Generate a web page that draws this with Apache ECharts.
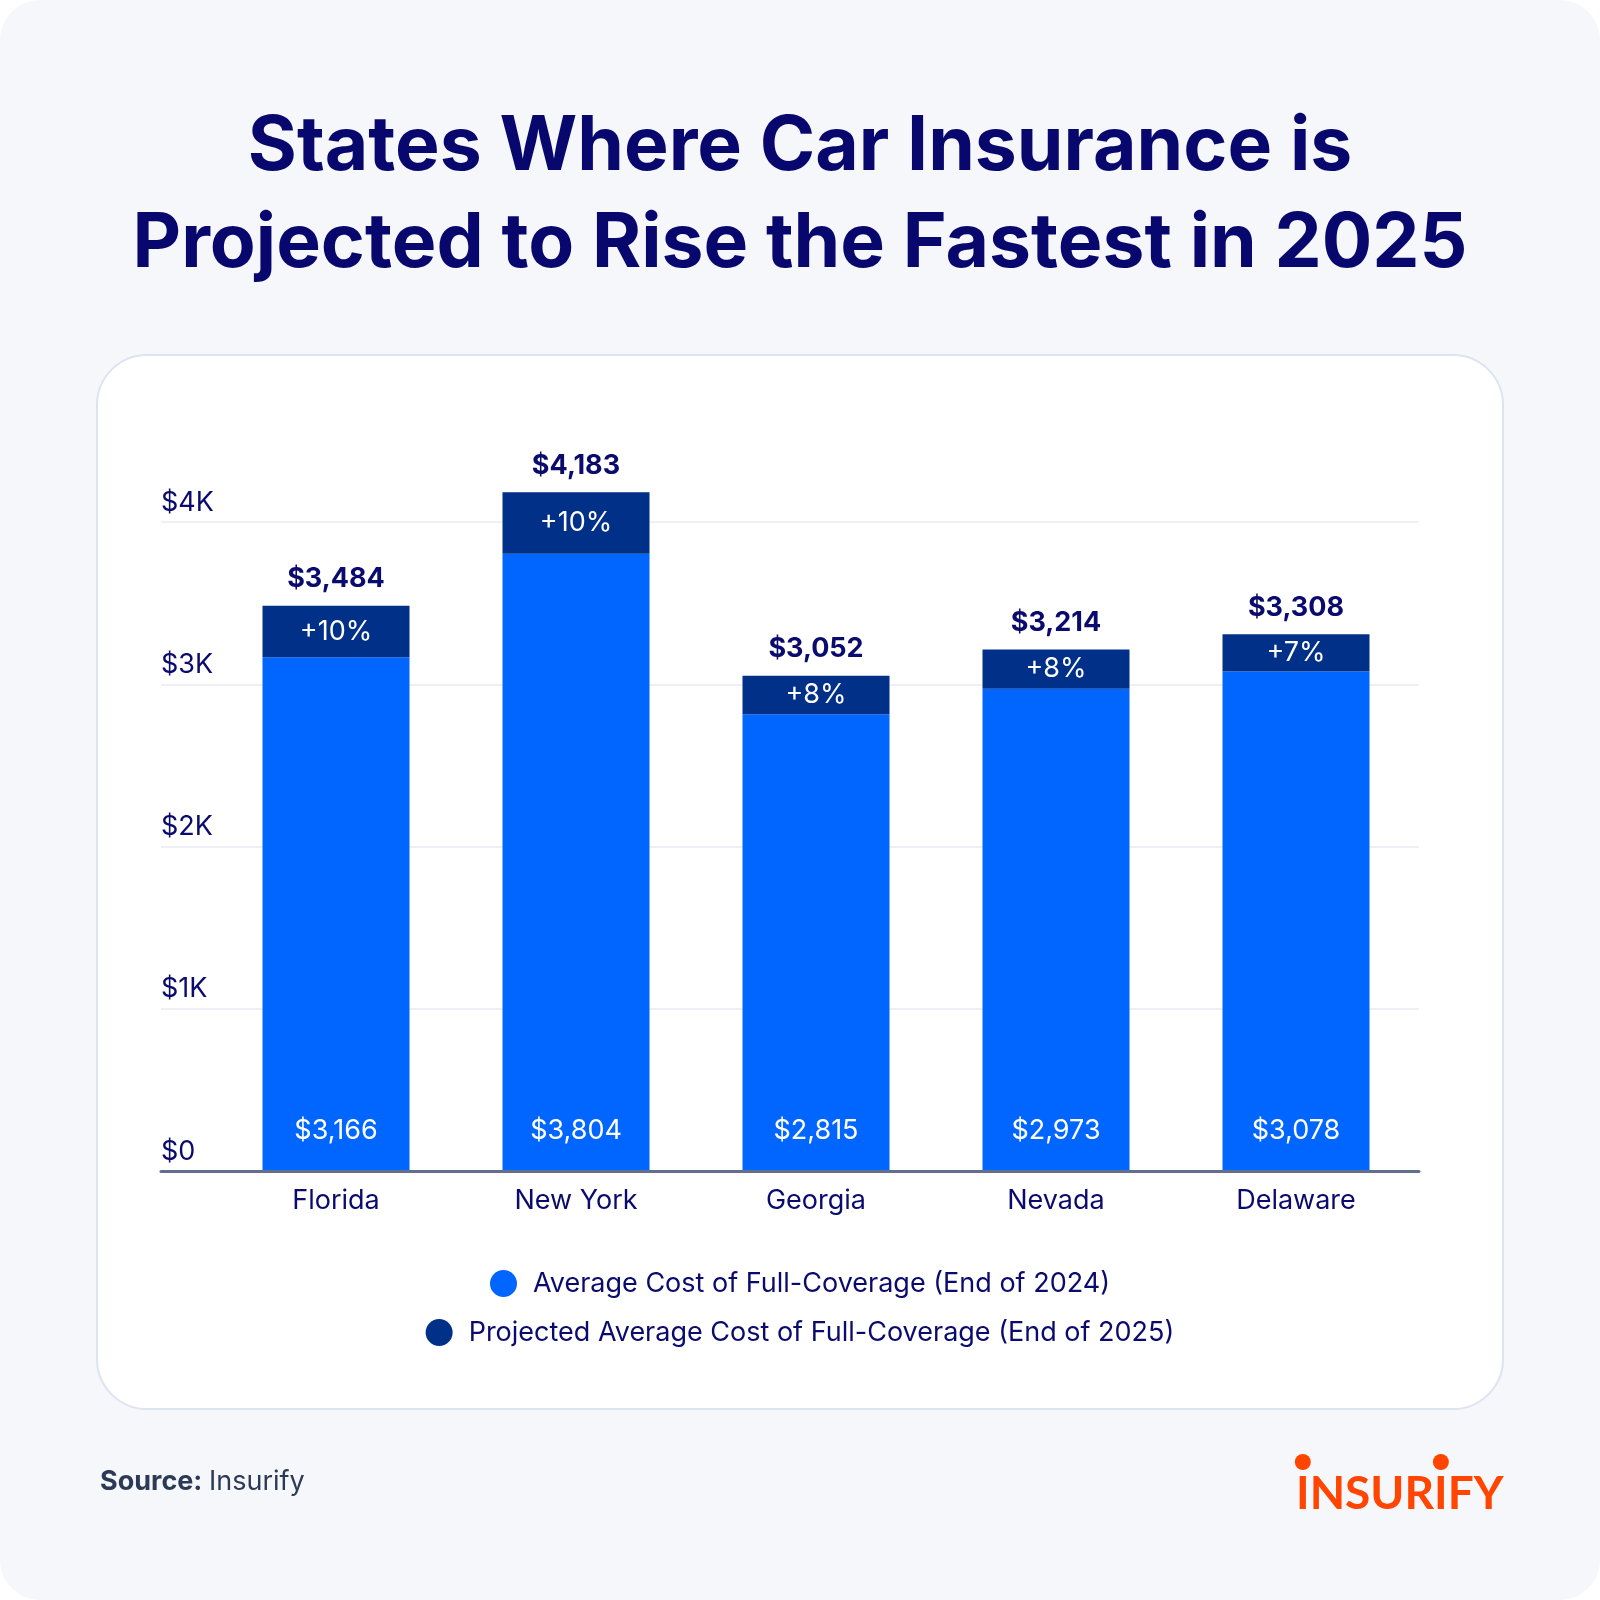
<!DOCTYPE html>
<html>
<head>
<meta charset="utf-8">
<title>Car insurance projections</title>
<script src="https://cdn.jsdelivr.net/npm/echarts@6/dist/echarts.min.js"></script>
<style>
  html, body { margin: 0; padding: 0; background: #ffffff; }
  #chart { width: 1600px; height: 1600px; border-radius: 40px; overflow: hidden; background: #f6f7fb; }
</style>
</head>
<body>
<div id="chart"></div>
<script>
const states = ['Florida', 'New York', 'Georgia', 'Nevada', 'Delaware'];
const cost2024 = [3166, 3804, 2815, 2973, 3078];
const cost2025 = [3484, 4183, 3052, 3214, 3308];
const growth = ['+10%', '+10%', '+8%', '+8%', '+7%'];
const yLabels = ['$0', '$1K', '$2K', '$3K', '$4K'];

const NAME_2024 = 'Average Cost of Full-Coverage (End of 2024)';
const NAME_2025 = 'Projected Average Cost of Full-Coverage (End of 2025)';

const NAVY = '#0b0b6e';
const BLUE = '#0066ff';
const DARK = '#003087';
const ORANGE = '#ff4500';
const FONT = 'Inter';

const increase = cost2025.map((v, i) => v - cost2024[i]);
const money = v => '$' + v.toLocaleString('en-US');

// logo: place the two dots over the I's using real text widths
const LOGO_FONT = '700 46px Lato';
const logoX = 1296;
const ctx = document.createElement('canvas').getContext('2d');
ctx.font = LOGO_FONT;
const iW = ctx.measureText('I').width;
const dot1 = logoX + iW / 2;
const dot2 = logoX + ctx.measureText('INSUR').width + iW / 2;

const chart = echarts.init(document.getElementById('chart'), null, { renderer: 'canvas' });

const titleStyle = { fontSize: 75, fontWeight: 700, color: '#07076e', fontFamily: FONT };

const option = {
  animation: false,
  textStyle: { fontFamily: FONT },
  title: [
    { text: 'States Where Car Insurance is', left: 'center', top: 105, textStyle: titleStyle },
    { text: 'Projected to Rise the Fastest in 2025', left: 'center', top: 202, textStyle: titleStyle }
  ],
  graphic: [
    {
      type: 'rect', z: -10, silent: true,
      shape: { x: 97, y: 355, width: 1406, height: 1054, r: 50 },
      style: { fill: '#ffffff', stroke: '#dde4ef', lineWidth: 2 }
    },
    {
      type: 'text', left: 100, top: 1468,
      style: {
        text: '{b|Source:}  {r|Insurify}',
        rich: {
          b: { fontSize: 27, fontWeight: 700, fill: '#2d3a55', fontFamily: FONT },
          r: { fontSize: 27, fontWeight: 400, fill: '#2d3a55', fontFamily: FONT }
        }
      }
    },
    {
      type: 'text', x: logoX, y: 1494,
      style: {
        text: 'INSURIFY', fill: ORANGE, font: LOGO_FONT,
        textAlign: 'left', textVerticalAlign: 'middle'
      }
    },
    { type: 'circle', shape: { cx: dot1, cy: 1462, r: 8 }, style: { fill: ORANGE } },
    { type: 'circle', shape: { cx: dot2, cy: 1462, r: 8 }, style: { fill: ORANGE } }
  ],
  legend: [
    {
      data: [NAME_2024], left: 'center', top: 1265, selectedMode: false,
      icon: 'circle', itemWidth: 27, itemHeight: 27,
      textStyle: { fontSize: 27, color: NAVY, padding: [0, 0, 0, 11], fontFamily: FONT }
    },
    {
      data: [NAME_2025], left: 'center', top: 1314, selectedMode: false,
      icon: 'circle', itemWidth: 27, itemHeight: 27,
      textStyle: { fontSize: 27, color: NAVY, padding: [0, 0, 0, 11], fontFamily: FONT }
    }
  ],
  grid: [
    { left: 161, right: 181, top: 522, bottom: 429 },
    { left: 216, right: 184, top: 522, bottom: 429 }
  ],
  xAxis: [
    {
      gridIndex: 0, type: 'value', min: 0, max: 1, z: 5,
      axisLine: { show: true, lineStyle: { color: '#5f6f8c', width: 3 } },
      axisTick: { show: false }, axisLabel: { show: false }, splitLine: { show: false }
    },
    {
      gridIndex: 1, type: 'category', data: states,
      axisLine: { show: false }, axisTick: { show: false },
      axisLabel: { fontSize: 27, color: NAVY, margin: 16, fontFamily: FONT }
    }
  ],
  yAxis: [
    {
      gridIndex: 0, type: 'value', min: 0, max: 4000, interval: 1000,
      axisLine: { show: false }, axisTick: { show: false },
      axisLabel: {
        inside: true, margin: 0, fontSize: 27, color: NAVY, fontFamily: FONT,
        verticalAlign: 'bottom', padding: [0, 0, 6, 0],
        formatter: v => yLabels[v / 1000]
      },
      splitLine: { lineStyle: { color: '#eef0f5', width: 2 } }
    },
    {
      gridIndex: 1, type: 'value', min: 0, max: 4000, interval: 1000, show: false
    }
  ],
  series: [
    {
      name: NAME_2024, type: 'bar', stack: 'cost', xAxisIndex: 1, yAxisIndex: 1,
      data: cost2024, barWidth: 147, barGap: '-100%', clip: false,
      itemStyle: { color: BLUE },
      label: {
        show: true, position: 'insideBottom', distance: 27,
        color: '#ffffff', fontSize: 27, fontFamily: FONT,
        formatter: p => money(p.value)
      }
    },
    {
      name: NAME_2025, type: 'bar', stack: 'cost', xAxisIndex: 1, yAxisIndex: 1,
      data: increase, barWidth: 147, clip: false,
      itemStyle: { color: DARK },
      label: {
        show: true, position: 'inside',
        color: '#ffffff', fontSize: 27, fontFamily: FONT,
        formatter: p => growth[p.dataIndex]
      }
    },
    {
      name: 'total', type: 'bar', xAxisIndex: 1, yAxisIndex: 1,
      data: cost2025, barWidth: 147, barGap: '-100%', clip: false, silent: true, z: 1,
      itemStyle: { color: 'rgba(0,0,0,0)' },
      label: {
        show: true, position: 'top', distance: 13,
        color: NAVY, fontSize: 27, fontWeight: 700, fontFamily: FONT,
        formatter: p => money(p.value)
      }
    }
  ]
};

chart.setOption(option);
</script>
</body>
</html>
